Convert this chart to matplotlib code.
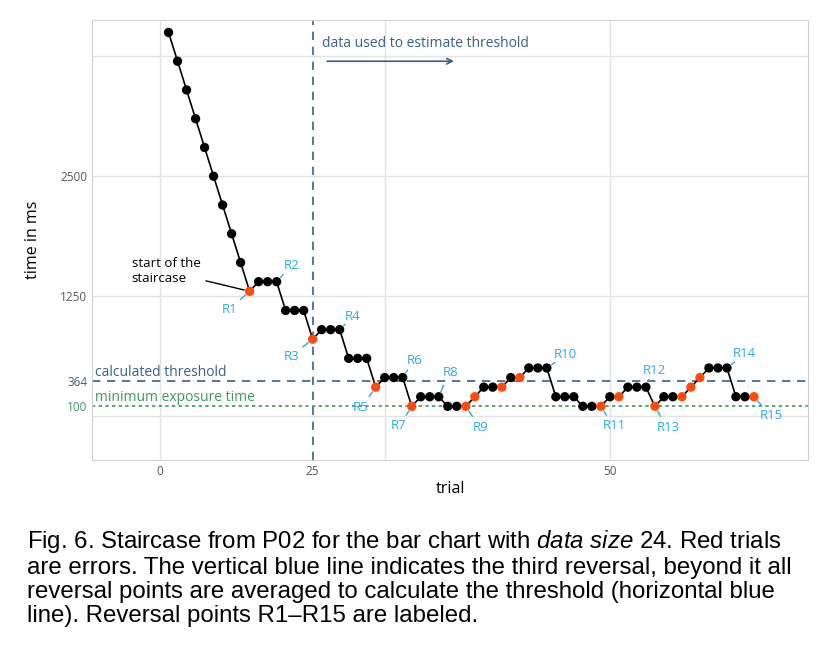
import matplotlib
matplotlib.use("Agg")
import matplotlib.pyplot as plt

# staircase data
trials = list(range(1, 67))
times = [4000, 3700, 3400, 3100, 2800, 2500, 2200, 1900, 1600, 1300,
         1400, 1400, 1400, 1100, 1100, 1100, 800, 900, 900, 900,
         600, 600, 600, 300, 400, 400, 400, 100, 200, 200,
         200, 100, 100, 100, 200, 300, 300, 300, 400, 400,
         500, 500, 500, 200, 200, 200, 100, 100, 100, 200,
         200, 300, 300, 300, 100, 200, 200, 200, 300, 400,
         500, 500, 500, 200, 200, 200]
errors = [10, 17, 24, 28, 34, 35, 38, 40, 49, 51, 55, 58, 59, 60, 66]
reversals = [10, 13, 17, 20, 24, 27, 28, 31, 34, 43, 49, 54, 55, 63, 66]
# label offsets in pixels (dx, dy)
rev_offsets = [(-17, -15), (12, 13), (-18, -14), (10, 10), (-12, -17), (9, 14),
               (-10, -16), (9, 21), (12, -18), (15, 10), (10, -16), (5, 14),
               (10, -18), (14, 11), (14, -16)]
threshold = 364
min_exposure = 100
start_trial = 17

BLUE = "#29abe2"
RED = "#ff4a0a"
NAVY = "#3a5f85"
GREEN = "#3a9a5a"

plt.rcParams["font.family"] = ["Open Sans", "DejaVu Sans"]
plt.rcParams["mathtext.fontset"] = "custom"
plt.rcParams["mathtext.rm"] = "Liberation Sans"
plt.rcParams["mathtext.it"] = "Liberation Sans:italic"

fig = plt.figure(figsize=(8.3, 6.59), dpi=100)
ax = fig.add_axes([92 / 830, 1 - 460 / 659, 716 / 830, 440 / 659])
ax.set_xlim(-7.5, 72)
ax.set_ylim(-460, 4130)

for gx in [0, 25, 50]:
    ax.axvline(gx, color="#e3e3e3", lw=1, zorder=0)
for gy in [0, 1250, 2500, 3750]:
    ax.axhline(gy, color="#e3e3e3", lw=1, zorder=0)
for s in ax.spines.values():
    s.set_color("#d0d0d0")

ax.axvline(start_trial, color=NAVY, ls=(0, (5, 4)), lw=1.2, zorder=1)
ax.axhline(threshold, color=NAVY, ls=(0, (5, 4)), lw=1.2, zorder=1)
ax.axhline(min_exposure, color=GREEN, ls=(0, (2, 2)), lw=1.2, zorder=1)

ax.plot(trials, times, color="black", lw=1.2, zorder=2)
cols = [RED if t in errors else "black" for t in trials]
ax.scatter(trials, times, c=cols, s=45, zorder=3, edgecolors="none")

for i, (r, (dx, dy)) in enumerate(zip(reversals, rev_offsets)):
    x0, y0 = r, times[r - 1]
    sx = 1 if dx > 0 else -1
    sy = 1 if dy > 0 else -1
    # short leader line from the point towards the label
    ax.annotate("", xy=(x0, y0), xytext=(dx * 0.55, dy * 0.55),
                textcoords="offset pixels",
                arrowprops=dict(arrowstyle="-", color=BLUE, lw=1,
                                shrinkA=0, shrinkB=4))
    ax.annotate(f"R{i + 1}", (x0, y0), xytext=(dx + 3 * sx, dy + 3 * sy),
                textcoords="offset pixels", color=BLUE, fontsize=9.5,
                ha="center", va="center", zorder=4)

ax.annotate("start of the\nstaircase", (10, 1300), xytext=(-118, 20),
            textcoords="offset pixels", fontsize=9.5, ha="left", va="center",
            arrowprops=dict(arrowstyle="-", color="black", lw=1, shrinkA=2, shrinkB=4))

ax.text(-7.2, threshold + 10, "calculated threshold", color=NAVY, fontsize=10, va="bottom")
ax.text(-7.2, min_exposure + 10, "minimum exposure time", color=GREEN, fontsize=10, va="bottom")
ax.text(18, 3880, "data used to estimate threshold", color=NAVY, fontsize=10, va="center")
ax.annotate("", xy=(33, 3700), xytext=(18.3, 3700),
            arrowprops=dict(arrowstyle="->", color=NAVY, lw=1.2))

ax.set_xticks([0, 17, 50], ["0", "25", "50"])
ax.set_yticks([100, threshold, 1250, 2500])
ax.set_yticklabels(["100", "364", "1250", "2500"])
ax.tick_params(length=0, labelsize=8.5, labelcolor="#555555")
ax.get_yticklabels()[0].set_color(GREEN)
ax.get_yticklabels()[1].set_color(NAVY)
ax.set_xlabel("trial", fontsize=11.5, labelpad=2)
ax.set_ylabel("time in ms", fontsize=11.5, labelpad=14)

caption = ("Fig. 6. Staircase from P02 for the bar chart with $\\it{data\\ size}$ 24. Red trials\n"
           "are errors. The vertical blue line indicates the third reversal, beyond it all\n"
           "reversal points are averaged to calculate the threshold (horizontal blue\n"
           "line). Reversal points R1\u2013R15 are labeled.")
fig.text(27 / 830, 1 - 528 / 659, caption, fontsize=17.3, family="Liberation Sans",
         va="top", ha="left", linespacing=1.12)

fig.savefig("out.png", dpi=100)
